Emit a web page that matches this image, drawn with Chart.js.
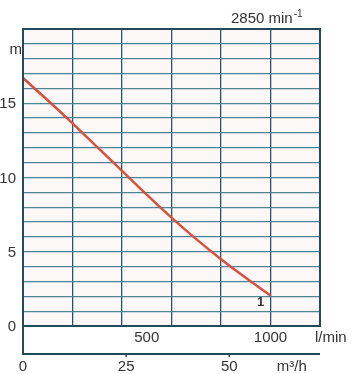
<!DOCTYPE html>
<html>
<head>
<meta charset="utf-8">
<script src="https://cdn.jsdelivr.net/npm/chart.js@4/dist/chart.umd.min.js"></script>
<style>
  html, body { margin: 0; padding: 0; background: #fff; }
  #chart { display: block; }
</style>
</head>
<body>
<canvas id="chart" width="353" height="374"></canvas>
<script>
// pump curve
const flowLpm = [0, 100, 200, 300, 400, 500, 600, 700, 800, 900, 1000];
const headM = [16.7, 15.2, 13.65, 12.05, 10.45, 8.85, 7.3, 5.85, 4.5, 3.25, 2.05];

const headTicks = [0, 5, 10, 15];
const flowTicks = [500, 1000];
const m3hTicks = [0, 25, 50];

const textColor = '#333';
const frameColor = '#24495a';

const points = flowLpm.map((f, i) => ({ x: f, y: headM[i] }));

// frame, the second flow axis and all the texts
const labelsPlugin = {
    id: 'labels',
    beforeDraw(chart) {
        const { ctx, chartArea } = chart;
        ctx.save();
        ctx.fillStyle = '#fcf8f7';
        ctx.fillRect(chartArea.left, chartArea.top, chartArea.width, chartArea.height);
        ctx.restore();
    },
    afterDraw(chart) {
        const { ctx, chartArea } = chart;
        const x = chart.scales.x;
        const y = chart.scales.y;
        const left = chartArea.left;
        const right = chartArea.right;
        const bottom = chartArea.bottom;
        const lower = bottom + 28;

        ctx.save();
        ctx.strokeStyle = frameColor;
        ctx.lineWidth = 2;
        ctx.strokeRect(left, chartArea.top, right - left, bottom - chartArea.top);

        ctx.beginPath();
        ctx.moveTo(left, bottom);
        ctx.lineTo(left, lower);
        ctx.lineTo(right, lower);
        ctx.stroke();

        ctx.lineWidth = 1.5;
        for (const v of m3hTicks.slice(1)) {
            const px = x.getPixelForValue(v * 1000 / 60);
            ctx.beginPath();
            ctx.moveTo(px, lower);
            ctx.lineTo(px, lower + 3);
            ctx.stroke();
        }

        ctx.fillStyle = textColor;
        ctx.font = '15px "Liberation Sans", Arial, sans-serif';
        ctx.textBaseline = 'middle';

        ctx.textAlign = 'right';
        for (const v of headTicks) {
            ctx.fillText(String(v), left - 7, y.getPixelForValue(v) + 1);
        }
        ctx.fillText('m', left - 1, y.getPixelForValue(18.6));

        ctx.textAlign = 'center';
        for (const v of flowTicks) {
            ctx.fillText(String(v), x.getPixelForValue(v), bottom + 12);
        }
        for (const v of m3hTicks) {
            ctx.fillText(String(v), x.getPixelForValue(v * 1000 / 60), lower + 13);
        }

        ctx.textAlign = 'left';
        ctx.fillText('l/min', right - 5, bottom + 12);
        ctx.fillText('m³/h', x.getPixelForValue(62 * 1000 / 60) - 2, lower + 13);

        // curve number
        ctx.font = 'bold 13px "Liberation Sans", Arial, sans-serif';
        ctx.textAlign = 'center';
        ctx.fillText('1', x.getPixelForValue(960), y.getPixelForValue(1.6));

        // speed
        ctx.font = '15px "Liberation Sans", Arial, sans-serif';
        ctx.textAlign = 'left';
        const sx = 231;
        ctx.fillText('2850 min', sx, 19);
        const w = ctx.measureText('2850 min').width;
        ctx.font = '10px "Liberation Sans", Arial, sans-serif';
        ctx.fillText('-1', w + sx + 1, 14);
        ctx.restore();
    }
};

const ctx = document.getElementById('chart').getContext('2d');
// eslint-disable-next-line no-undef, no-unused-vars
const chart = new Chart(ctx, {
    type: 'line',
    data: {
        datasets: [{
            data: points,
            borderColor: '#d8503f',
            borderWidth: 2.5,
            pointRadius: 0,
            fill: false,
            tension: 0.3
        }]
    },
    options: {
        responsive: false,
        animation: false,
        devicePixelRatio: 1,
        layout: {
            padding: { left: 23, top: 29, right: 33, bottom: 48 }
        },
        plugins: {
            legend: { display: false },
            tooltip: { enabled: false }
        },
        scales: {
            x: {
                type: 'linear',
                min: 0,
                max: 1200,
                ticks: { display: false, stepSize: 200 },
                grid: { color: '#2c5563', lineWidth: 1.3, drawTicks: false },
                border: { display: false }
            },
            y: {
                min: 0,
                max: 20,
                ticks: { display: false, stepSize: 1 },
                grid: { color: '#4f8497', lineWidth: 1.3, drawTicks: false },
                border: { display: false }
            }
        }
    },
    plugins: [labelsPlugin]
});
</script>
</body>
</html>
